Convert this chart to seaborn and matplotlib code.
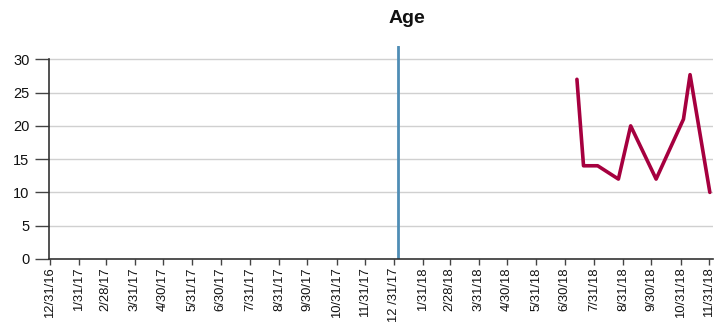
import matplotlib
matplotlib.use("Agg")
import matplotlib.pyplot as plt
import seaborn as sns
import pandas as pd

# Observation dates and ages
dates = ["2018-07-13", "2018-07-20", "2018-08-04", "2018-08-26", "2018-09-08",
         "2018-10-05", "2018-11-03", "2018-11-10", "2018-12-01"]
ages = [27, 14, 14, 12, 20, 12, 21, 27.7, 10]

# Month-end ticks and their labels
tick_dates = ["2016-12-31", "2017-01-31", "2017-02-28", "2017-03-31", "2017-04-30",
              "2017-05-31", "2017-06-30", "2017-07-31", "2017-08-31", "2017-09-30",
              "2017-10-31", "2017-11-30", "2017-12-31", "2018-01-31", "2018-02-28",
              "2018-03-31", "2018-04-30", "2018-05-31", "2018-06-30", "2018-07-31",
              "2018-08-31", "2018-09-30", "2018-10-31", "2018-11-30"]
tick_labels = ["12/31/16", "1/31/17", "2/28/17", "3/31/17", "4/30/17", "5/31/17",
               "6/30/17", "7/31/17", "8/31/17", "9/30/17", "10/31/17", "11/31/17",
               "12 /31/17", "1/31/18", "2/28/18", "3/31/18", "4/30/18", "5/31/18",
               "6/30/18", "7/31/18", "8/31/18", "9/30/18", "10/31/18", "11/31/18"]
marker_date = "2018-01-04"

sns.set_theme(style="white")
plt.rcParams["font.family"] = ["Liberation Sans", "DejaVu Sans"]

df = pd.DataFrame({"date": pd.to_datetime(dates), "age": ages})
ticks = pd.to_datetime(tick_dates)

fig = plt.figure(figsize=(7.25, 3.22), dpi=100)
ax = fig.add_axes([0.0676, 0.196, 0.9154, 0.661])

for v in [5, 10, 15, 20, 25, 30]:
    ax.axhline(v, color="#d0d0d0", lw=1, zorder=0)

ax.axvline(pd.Timestamp(marker_date), color="#4f8db5", lw=2, zorder=2)
sns.lineplot(data=df, x="date", y="age", ax=ax, color="#a6003f", lw=2.6, zorder=3)

ax.set_xlim(ticks[0] - pd.Timedelta(days=1), ticks[-1] + pd.Timedelta(days=4))
ax.set_ylim(0, 32)
ax.set_yticks([0, 5, 10, 15, 20, 25, 30])
ax.set_xticks(ticks)
ax.set_xticklabels(tick_labels, rotation=90, fontsize=9.4, color="#111111")
ax.tick_params(axis="y", labelsize=10.5, labelcolor="#111111", length=10, width=1,
               color="#444444", pad=4, left=True)
ax.tick_params(axis="x", length=4, width=1, color="#444444", pad=2, bottom=True)
ax.set_xlabel("")
ax.set_ylabel("")

for s in ["top", "right"]:
    ax.spines[s].set_visible(False)
for s in ["left", "bottom"]:
    ax.spines[s].set_color("#333333")
    ax.spines[s].set_linewidth(1.2)
ax.spines["left"].set_bounds(0, 30)

fig.text(0.561, 0.943, "Age", ha="center", va="center", fontsize=14,
         fontweight="bold", color="#111111")

fig.savefig("out.png", dpi=100)
